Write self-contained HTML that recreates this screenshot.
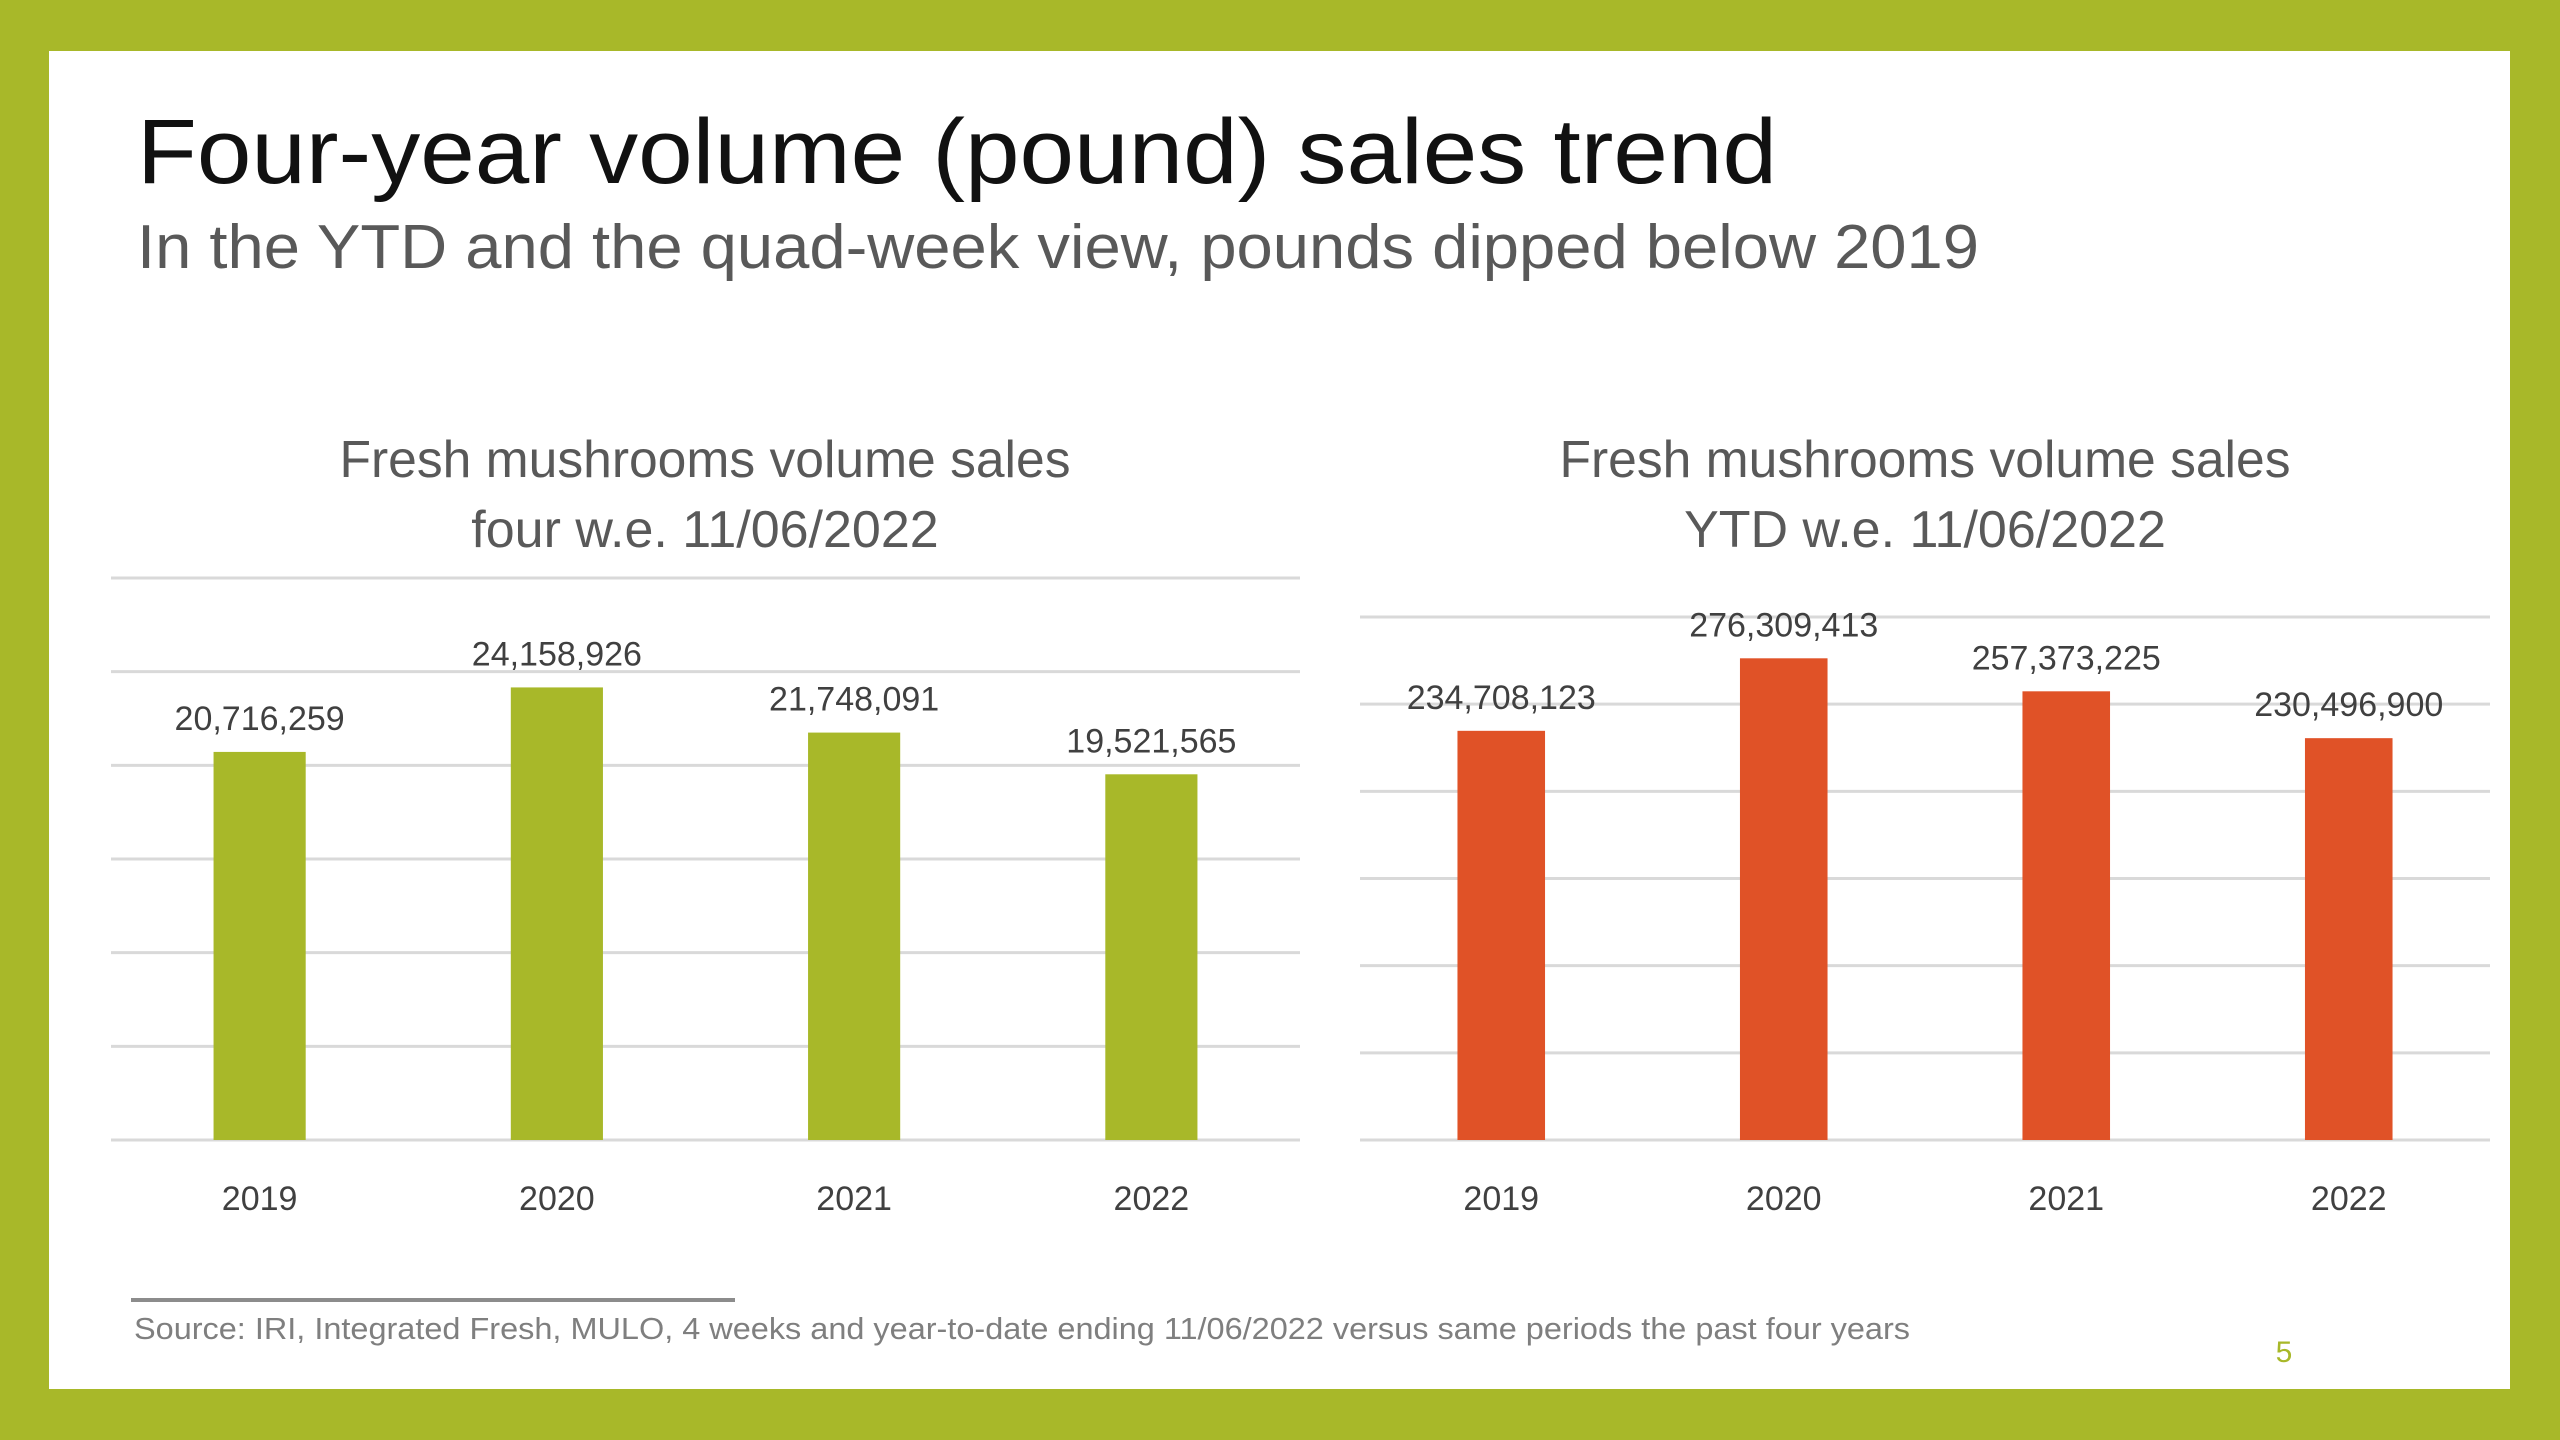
<!DOCTYPE html>
<html><head><meta charset="utf-8"><style>
html,body{margin:0;padding:0;width:2560px;height:1440px;overflow:hidden;background:#a8b829;}
svg{display:block;font-family:"Liberation Sans",sans-serif;}
</style></head><body>
<svg id="slide" width="2560" height="1440" viewBox="0 0 2560 1440" xmlns="http://www.w3.org/2000/svg">
<rect x="0" y="0" width="2560" height="1440" fill="#a8b829"/>
<rect x="49" y="51" width="2461" height="1338" fill="#ffffff"/>
<text x="137" y="183" font-size="92" fill="#111" textLength="1640" lengthAdjust="spacingAndGlyphs">Four-year volume (pound) sales trend</text>
<text x="137" y="268" font-size="62" fill="#595959" textLength="1842" lengthAdjust="spacingAndGlyphs">In the YTD and the quad-week view, pounds dipped below 2019</text>
<text x="705" y="477" font-size="52" fill="#595959" text-anchor="middle" textLength="731" lengthAdjust="spacingAndGlyphs">Fresh mushrooms volume sales</text>
<text x="705" y="547" font-size="52" fill="#595959" text-anchor="middle">four w.e. 11/06/2022</text>
<text x="1925" y="477" font-size="52" fill="#595959" text-anchor="middle" textLength="731" lengthAdjust="spacingAndGlyphs">Fresh mushrooms volume sales</text>
<text x="1925" y="547" font-size="52" fill="#595959" text-anchor="middle">YTD w.e. 11/06/2022</text>
<g id="left-chart"></g>
<g id="right-chart"></g>
<line x1="131" y1="1300" x2="735" y2="1300" stroke="#8c8c8c" stroke-width="4"/>
<text x="134" y="1339" font-size="31" fill="#7f7f7f" textLength="1776" lengthAdjust="spacingAndGlyphs">Source: IRI, Integrated Fresh, MULO, 4 weeks and year-to-date ending 11/06/2022 versus same periods the past four years</text>
<text x="2284" y="1362" font-size="30" fill="#a8b829" text-anchor="middle">5</text>
</svg>
<script>
const categories = ["2019","2020","2021","2022"];
const quadWeekValues = [20716259, 24158926, 21748091, 19521565];
const ytdValues = [234708123, 276309413, 257373225, 230496900];
const quadWeekTicks = [0, 5000000, 10000000, 15000000, 20000000, 25000000, 30000000];
const ytdTicks = [0, 50000000, 100000000, 150000000, 200000000, 250000000, 300000000];

const NS = "http://www.w3.org/2000/svg";
function mk(tag, attrs, parent){const e=document.createElementNS(NS,tag);for(const k in attrs)e.setAttribute(k,attrs[k]);parent.appendChild(e);return e;}
function fmt(v){return v.toLocaleString("en-US");}

function drawChart(g, values, ticks, cfg){
  const max = ticks[ticks.length-1];
  const y = v => cfg.base - (v/max)*(cfg.base-cfg.top);
  const band = (cfg.x1-cfg.x0)/categories.length;
  const xc = i => cfg.x0 + band*(i+0.5);
  ticks.forEach((t)=>{
    const l = mk("line",{x1:cfg.x0,x2:cfg.x1,y1:y(t),y2:y(t),stroke:"#d9d9d9","stroke-width":3},g);
    
    
  });
  values.forEach((v,i)=>{
    const w = band*0.31;
    const r = mk("rect",{x:xc(i)-w/2,y:y(v),width:w,height:cfg.base-y(v),fill:cfg.color},g);
    
    
    const lb = mk("text",{x:xc(i),y:y(v)-22,"font-size":34,fill:"#404040","text-anchor":"middle"},g);
    lb.textContent = fmt(v);
    
    
    const cl = mk("text",{x:xc(i),y:1210,"font-size":34,fill:"#404040","text-anchor":"middle"},g);
    cl.textContent = categories[i];
    
    
  });
}
drawChart(document.getElementById("left-chart"), quadWeekValues, quadWeekTicks, {x0:111,x1:1300,top:578,base:1140,color:"#a8b829"});
drawChart(document.getElementById("right-chart"), ytdValues, ytdTicks, {x0:1360,x1:2490,top:617,base:1140,color:"#e05227"});
</script>
</body></html>
